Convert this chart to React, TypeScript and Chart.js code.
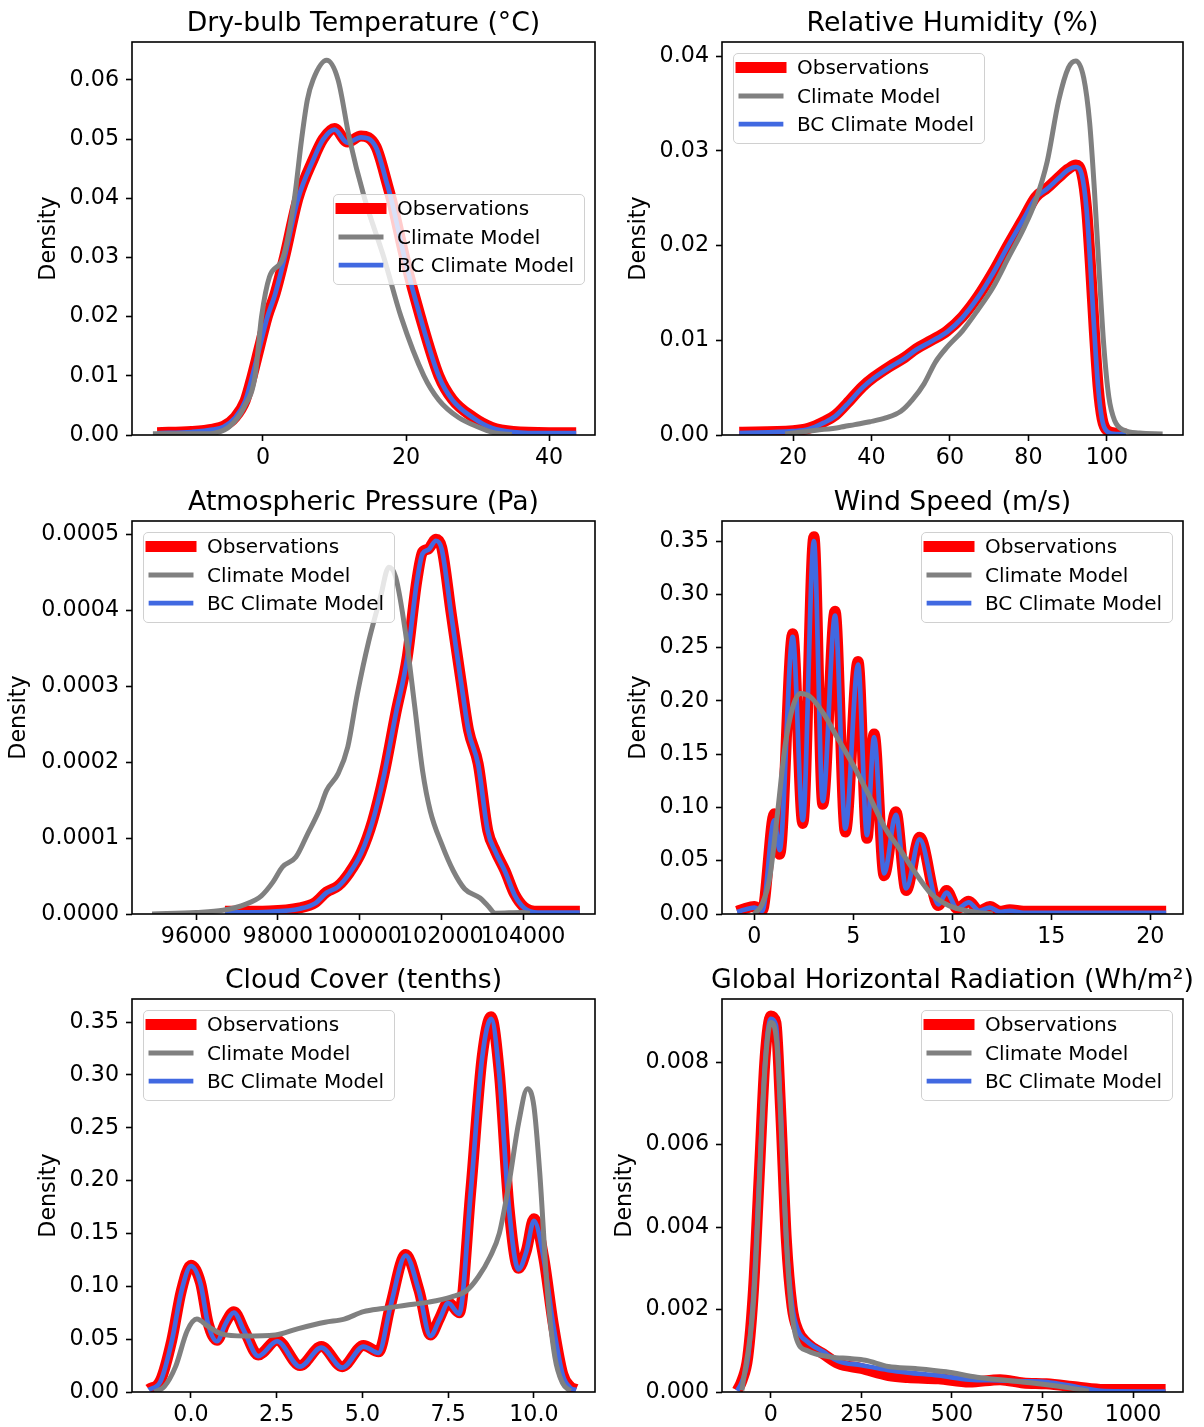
import React, { useEffect, useRef } from "react";
import { Chart, registerables } from "chart.js";

Chart.register(...registerables);

// ---------------- DATA ----------------
// Dry-bulb Temperature (°C)
const tempObsX = [-14.8, -10, -7, -5.5, -3.9, -2.5, -1.5, -0.5, 0.6, 1.7, 3.0, 4.9, 7.0, 8.4, 10.0, 11.8, 13.7, 15.8, 17.4, 18.0, 19.8, 22.0, 24.6, 26.5, 29.4, 32, 35, 40, 43.8];
const tempObsY = [0.0004, 0.0006, 0.001, 0.0015, 0.003, 0.0058, 0.01, 0.0148, 0.02, 0.0239, 0.03, 0.04, 0.0465, 0.05, 0.0518, 0.0495, 0.0505, 0.0487, 0.0423, 0.0396, 0.03, 0.02, 0.01, 0.006, 0.003, 0.0013, 0.0006, 0.0004, 0.0004];
const tempBcY = [0.0003, 0.0005, 0.0009, 0.0014, 0.0029, 0.0057, 0.0099, 0.0147, 0.0199, 0.0238, 0.0299, 0.0399, 0.0464, 0.0499, 0.0516, 0.0494, 0.0503, 0.0486, 0.0422, 0.0395, 0.0299, 0.0199, 0.0099, 0.0059, 0.0029, 0.0012, 0.0005, 0.0003, 0.0003];
const tempModelX = [-15.4, -8, -6.8, -4.7, -2.6, -1.1, -0.2, 0.9, 2.8, 4.4, 5.4, 6.2, 7.0, 8.9, 10.5, 12.1, 14.2, 16.9, 19.3, 22.5, 24.6, 27.3, 30, 32.6, 34.8];
const tempModelY = [0.0002, 0.0002, 0.0003, 0.0014, 0.0048, 0.01, 0.02, 0.0267, 0.03, 0.04, 0.05, 0.0566, 0.06, 0.0633, 0.06, 0.05, 0.04, 0.03, 0.02, 0.01, 0.0059, 0.003, 0.0014, 0.0003, 0.0001];
const tempXTicks = [0, 20, 40];
const tempYTicks = [0, 0.01, 0.02, 0.03, 0.04, 0.05, 0.06];

// Relative Humidity (%)
const rhObsX = [6.3, 20, 23.9, 27.9, 30.8, 33.7, 37.7, 40.6, 44.5, 48.5, 51.4, 55.3, 59.3, 63.2, 67.1, 71.0, 75.0, 78.9, 81.8, 84.8, 87.7, 90.2, 92.1, 93.6, 94.8, 95.8, 96.8, 97.8, 98.8, 100, 102.4, 104.9];
const rhObsY = [0.0003, 0.00045, 0.0007, 0.0014, 0.0021, 0.0033, 0.0051, 0.0061, 0.0072, 0.0082, 0.0091, 0.01, 0.011, 0.0125, 0.0146, 0.0172, 0.0202, 0.023, 0.0251, 0.0261, 0.0272, 0.0281, 0.0285, 0.0276, 0.024, 0.018, 0.011, 0.005, 0.0017, 0.0005, 0.0002, 0.0001];
const rhBcY = [0.0002, 0.0004, 0.0006, 0.0013, 0.002, 0.0032, 0.005, 0.006, 0.0071, 0.0081, 0.009, 0.0099, 0.0109, 0.0124, 0.0145, 0.0171, 0.0201, 0.0229, 0.025, 0.026, 0.0271, 0.028, 0.0283, 0.0275, 0.0239, 0.0179, 0.0109, 0.0049, 0.0016, 0.0004, 0.0001, 0.0001];
const rhModelX = [18, 25.9, 31.8, 35.7, 39.6, 43.6, 47.5, 50.4, 53.4, 56.3, 59.3, 63.2, 67.1, 71.0, 75.0, 78.9, 81.8, 84.8, 87.7, 90.2, 92.1, 94.1, 95.6, 96.8, 98, 99.2, 100.5, 102, 104.4, 108.3, 114.2];
const rhModelY = [0.0001, 0.0005, 0.0008, 0.0011, 0.0014, 0.0018, 0.0025, 0.0037, 0.0054, 0.0077, 0.0093, 0.011, 0.0132, 0.0156, 0.0188, 0.0219, 0.0247, 0.0289, 0.0353, 0.0388, 0.0395, 0.0377, 0.033, 0.026, 0.0175, 0.0095, 0.004, 0.0015, 0.0005, 0.0002, 0.0001];
const rhXTicks = [20, 40, 60, 80, 100];
const rhYTicks = [0, 0.01, 0.02, 0.03, 0.04];

// Atmospheric Pressure (Pa)
const presObsX = [96704, 97784, 98535, 98911, 99192, 99474, 99756, 100038, 100319, 100601, 100883, 101164, 101399, 101540, 101681, 101869, 102009, 102244, 102479, 102667, 102901, 103136, 103324, 103559, 103794, 104028, 104357, 105390];
const presObsY = [0.0000035, 0.000004, 0.000008, 0.000015, 0.000029, 0.000037, 0.000055, 0.000081, 0.000123, 0.000185, 0.000264, 0.000338, 0.000439, 0.000477, 0.000481, 0.000494, 0.000483, 0.000395, 0.000308, 0.000242, 0.000198, 0.00011, 0.000083, 0.000057, 0.000026, 0.000009, 0.0000035, 0.0000035];
const presBcY = [0.000002, 0.000003, 0.000007, 0.000014, 0.000028, 0.000036, 0.000054, 0.00008, 0.000122, 0.000184, 0.000263, 0.000337, 0.000437, 0.000475, 0.00048, 0.000492, 0.000481, 0.000394, 0.000307, 0.000241, 0.000197, 0.000109, 0.000082, 0.000056, 0.000025, 0.000008, 0.000002, 0.000002];
const presModelX = [94920, 96000, 96657, 97220, 97596, 97878, 98113, 98441, 98723, 99005, 99192, 99474, 99709, 99944, 100225, 100507, 100714, 100883, 101117, 101352, 101540, 101728, 102009, 102291, 102573, 102948, 103136, 103324, 103981, 104169];
const presModelY = [0, 0.000002, 0.000005, 0.000013, 0.000024, 0.000042, 0.000062, 0.000075, 0.000105, 0.000136, 0.000163, 0.000185, 0.00022, 0.00029, 0.00036, 0.000417, 0.000457, 0.000444, 0.000373, 0.000272, 0.000189, 0.000136, 0.000092, 0.000057, 0.000033, 0.000021, 0.000011, 0.000001, 0.000002, 0.000001];
const presXTicks = [96000, 98000, 100000, 102000, 104000];
const presYTicks = [0, 0.0001, 0.0002, 0.0003, 0.0004, 0.0005];

// Wind Speed (m/s)
const windObsX = [-0.87, -0.5, 0.0, 0.4, 1.01, 1.28, 1.94, 2.45, 3.01, 3.46, 4.08, 4.6, 5.24, 5.69, 6.05, 6.56, 7.15, 7.67, 8.35, 9.3, 9.71, 10.25, 10.83, 11.36, 11.9, 12.4, 12.9, 13.6, 20.8];
const windObsY = [0.0025, 0.005, 0.007, 0.003, 0.094, 0.056, 0.263, 0.085, 0.354, 0.103, 0.284, 0.077, 0.237, 0.071, 0.169, 0.036, 0.096, 0.022, 0.072, 0.008, 0.022, 0.005, 0.012, 0.003, 0.007, 0.0025, 0.004, 0.0025, 0.0025];
const windBcY = [0.002, 0.004, 0.006, 0.003, 0.088, 0.06, 0.26, 0.088, 0.35, 0.106, 0.28, 0.08, 0.234, 0.074, 0.166, 0.038, 0.093, 0.024, 0.07, 0.009, 0.02, 0.005, 0.011, 0.003, 0.006, 0.002, 0.003, 0.001, 0.001];
const windModelX = [0, 0.39, 0.78, 1.17, 1.55, 1.94, 2.33, 2.82, 3.5, 4.27, 5.05, 5.83, 6.6, 7.38, 8.16, 8.93, 9.71, 10.49, 11.26, 12.04];
const windModelY = [0, 0.009, 0.034, 0.094, 0.157, 0.194, 0.207, 0.204, 0.188, 0.163, 0.138, 0.11, 0.081, 0.06, 0.038, 0.019, 0.009, 0.004, 0.0015, 0];
const windXTicks = [0, 5, 10, 15, 20];
const windYTicks = [0, 0.05, 0.1, 0.15, 0.2, 0.25, 0.3, 0.35];

// Cloud Cover (tenths)
const cloudObsX = [-1.23, -0.89, -0.56, -0.28, 0.0, 0.28, 0.5, 0.76, 1.0, 1.25, 1.56, 1.96, 2.51, 3.18, 3.8, 4.41, 5.03, 5.47, 5.81, 6.26, 6.65, 6.98, 7.25, 7.5, 7.82, 8.16, 8.49, 8.75, 8.99, 9.27, 9.55, 9.78, 10.0, 10.28, 10.56, 10.84, 11.06, 11.23];
const cloudObsY = [0.0025, 0.011, 0.049, 0.096, 0.12, 0.103, 0.065, 0.049, 0.065, 0.076, 0.058, 0.035, 0.049, 0.025, 0.043, 0.024, 0.044, 0.038, 0.081, 0.13, 0.096, 0.054, 0.07, 0.085, 0.075, 0.191, 0.317, 0.355, 0.302, 0.175, 0.117, 0.134, 0.164, 0.128, 0.065, 0.017, 0.005, 0.0025];
const cloudBcY = [0.002, 0.01, 0.048, 0.095, 0.119, 0.102, 0.064, 0.048, 0.064, 0.075, 0.057, 0.034, 0.048, 0.024, 0.042, 0.023, 0.043, 0.037, 0.08, 0.129, 0.095, 0.053, 0.069, 0.084, 0.074, 0.19, 0.316, 0.353, 0.3, 0.174, 0.116, 0.133, 0.162, 0.127, 0.064, 0.016, 0.004, 0.002];
const cloudModelX = [-1.06, -0.78, -0.45, -0.11, 0.17, 0.5, 0.89, 1.56, 2.46, 3.13, 3.91, 4.47, 5.03, 5.59, 6.26, 6.93, 7.6, 8.04, 8.38, 8.72, 8.99, 9.27, 9.55, 9.81, 10.0, 10.17, 10.39, 10.61, 10.84, 11.06];
const cloudModelY = [0, 0.005, 0.024, 0.058, 0.069, 0.062, 0.055, 0.053, 0.054, 0.06, 0.066, 0.069, 0.076, 0.079, 0.082, 0.085, 0.09, 0.096, 0.109, 0.128, 0.15, 0.197, 0.254, 0.287, 0.27, 0.207, 0.096, 0.033, 0.008, 0.001];
const cloudXTicks = [0, 2.5, 5, 7.5, 10];
const cloudYTicks = [0, 0.05, 0.1, 0.15, 0.2, 0.25, 0.3, 0.35];

// Global Horizontal Radiation (Wh/m²)
const ghiObsX = [-92.6, -79.8, -63.8, -47.9, -31.9, -16, 0, 13.8, 26.6, 42.6, 58.5, 74.5, 101, 143.6, 186, 250, 324.5, 377.7, 462.8, 547.9, 633, 696.8, 760.6, 845.7, 920, 1090];
const ghiObsY = [0.00004, 0.00028, 0.00085, 0.0025, 0.0053, 0.0081, 0.00912, 0.00896, 0.0069, 0.0037, 0.00207, 0.0015, 0.00118, 0.00093, 0.00069, 0.00057, 0.0004, 0.00035, 0.00032, 0.00024, 0.0003, 0.00022, 0.0002, 0.00012, 0.00006, 0.00006];
const ghiBcY = [0.00003, 0.00025, 0.0008, 0.0024, 0.0052, 0.008, 0.00905, 0.0089, 0.0069, 0.0037, 0.0021, 0.0015, 0.00122, 0.00098, 0.00075, 0.00065, 0.00053, 0.00047, 0.0004, 0.0003, 0.00028, 0.00026, 0.00024, 0.00012, 0.00002, 0.00001];
const ghiModelX = [-80, -48, -16, 0, 16, 32, 48, 69, 101, 165, 218, 261, 324.5, 399, 484, 569, 654, 739, 824, 878];
const ghiModelY = [0.00004, 0.0022, 0.0079, 0.00896, 0.0085, 0.0057, 0.0029, 0.00134, 0.001, 0.00085, 0.00081, 0.00077, 0.00062, 0.00057, 0.00049, 0.00036, 0.00028, 0.0002, 0.0001, 0.00002];
const ghiXTicks = [0, 250, 500, 750, 1000];
const ghiYTicks = [0, 0.002, 0.004, 0.006, 0.008];

const seriesLabels = ["Observations", "Climate Model", "BC Climate Model"];
const yAxisLabel = "Density";

// ---------------- LAYOUT / STYLE ----------------
const FONT = '"DejaVu Sans", sans-serif';
const TICK_SIZE = 22.2;
const LEGEND_SIZE = 20;
const TITLE_SIZE = 26.7;
const COLS = [
  { x: 0, w: 602, chartLeft: 132, chartRight: 595 },
  { x: 602, w: 602, chartLeft: 722, chartRight: 1183 },
];
const ROWS = [
  { y: 0, h: 478, chartTop: 42, chartBottom: 435 },
  { y: 478, h: 479, chartTop: 521, chartBottom: 914 },
  { y: 957, h: 470, chartTop: 999, chartBottom: 1392 },
];

type LegendPos = "ul" | "ur" | { dx: number; dy: number };
interface PanelSpec {
  title: string;
  col: number;
  row: number;
  obsX: number[]; obsY: number[];
  modelX: number[]; modelY: number[];
  bcX: number[]; bcY: number[];
  xMin: number; xMax: number; yMax: number;
  xTicks: number[]; yTicks: number[];
  xDec: number; yDec: number;
  legend: LegendPos;
  ylabelPad: number;
}

const panels: PanelSpec[] = [
  { title: "Dry-bulb Temperature (°C)", col: 0, row: 0, obsX: tempObsX, obsY: tempObsY, modelX: tempModelX, modelY: tempModelY, bcX: tempObsX, bcY: tempBcY, xMin: -18.32, xMax: 46.43, yMax: 0.0664, xTicks: tempXTicks, yTicks: tempYTicks, xDec: 0, yDec: 2, legend: { dx: 201, dy: 152 }, ylabelPad: 36.4 },
  { title: "Relative Humidity (%)", col: 1, row: 0, obsX: rhObsX, obsY: rhObsY, modelX: rhModelX, modelY: rhModelY, bcX: rhObsX, bcY: rhBcY, xMin: 1.9, xMax: 119.4, yMax: 0.0415, xTicks: rhXTicks, yTicks: rhYTicks, xDec: 0, yDec: 2, legend: "ul", ylabelPad: 24 },
  { title: "Atmospheric Pressure (Pa)", col: 0, row: 1, obsX: presObsX, obsY: presObsY, modelX: presModelX, modelY: presModelY, bcX: presObsX, bcY: presBcY, xMin: 94430, xMax: 105760, yMax: 0.000518, xTicks: presXTicks, yTicks: presYTicks, xDec: 0, yDec: 4, legend: "ul", ylabelPad: 5.8 },
  { title: "Wind Speed (m/s)", col: 1, row: 1, obsX: windObsX, obsY: windObsY, modelX: windModelX, modelY: windModelY, bcX: windObsX, bcY: windBcY, xMin: -1.63, xMax: 21.65, yMax: 0.3688, xTicks: windXTicks, yTicks: windYTicks, xDec: 0, yDec: 2, legend: "ur", ylabelPad: 24 },
  { title: "Cloud Cover (tenths)", col: 0, row: 2, obsX: cloudObsX, obsY: cloudObsY, modelX: cloudModelX, modelY: cloudModelY, bcX: cloudObsX, bcY: cloudBcY, xMin: -1.72, xMax: 11.78, yMax: 0.3718, xTicks: cloudXTicks, yTicks: cloudYTicks, xDec: 1, yDec: 2, legend: "ul", ylabelPad: 36.4 },
  { title: "Global Horizontal Radiation (Wh/m²)", col: 1, row: 2, obsX: ghiObsX, obsY: ghiObsY, modelX: ghiModelX, modelY: ghiModelY, bcX: ghiObsX, bcY: ghiBcY, xMin: -135, xMax: 1138, yMax: 0.00953, xTicks: ghiXTicks, yTicks: ghiYTicks, xDec: 0, yDec: 3, legend: "ur", ylabelPad: 9.5 },
];

const zip = (xs: number[], ys: number[]) => xs.map((x, i) => ({ x, y: ys[i] }));

// ---------------- PLUGINS ----------------
const framePlugin = {
  id: "kdeFrame",
  afterDatasetsDraw(chart: any) {
    const { ctx, chartArea: ca } = chart;
    ctx.save();
    ctx.strokeStyle = "#000";
    ctx.lineWidth = 1.6;
    ctx.strokeRect(ca.left, ca.top, ca.right - ca.left, ca.bottom - ca.top);
    ctx.restore();
  },
};

const legendBoxPlugin = {
  id: "kdeLegend",
  afterDatasetsDraw(chart: any, _args: any, opts: any) {
    const { ctx, chartArea: ca } = chart;
    const W = 251, H = 90;
    const pos: LegendPos = opts.pos;
    let x0: number, y0: number;
    if (pos === "ur") { x0 = ca.right - 11 - W; y0 = ca.top + 11; }
    else if (pos === "ul") { x0 = ca.left + 11; y0 = ca.top + 11; }
    else { x0 = ca.left + pos.dx; y0 = ca.top + pos.dy; }
    ctx.save();
    ctx.beginPath();
    ctx.roundRect(x0 + 0.5, y0 + 0.5, W, H, 4.5);
    ctx.fillStyle = "rgba(255,255,255,0.8)";
    ctx.fill();
    ctx.strokeStyle = "#d0d0d0";
    ctx.lineWidth = 1;
    ctx.stroke();
    chart.data.datasets.forEach((ds: any, i: number) => {
      const cy = y0 + 14.6 + 28.3 * i;
      ctx.beginPath();
      ctx.strokeStyle = ds.borderColor;
      ctx.lineWidth = ds.borderWidth;
      ctx.lineCap = "square";
      ctx.moveTo(x0 + 8, cy);
      ctx.lineTo(x0 + 48, cy);
      ctx.stroke();
      ctx.fillStyle = "#000";
      ctx.font = `${LEGEND_SIZE}px ${FONT}`;
      ctx.textAlign = "left";
      ctx.textBaseline = "alphabetic";
      ctx.fillText(ds.label, x0 + 64, y0 + 21.2 + 28.3 * i);
    });
    ctx.restore();
  },
};

const titlePlugin = {
  id: "kdeTitle",
  afterDraw(chart: any, _args: any, opts: any) {
    const { ctx, chartArea: ca } = chart;
    ctx.save();
    ctx.font = `${TITLE_SIZE}px ${FONT}`;
    ctx.fillStyle = "#000";
    ctx.textAlign = "center";
    ctx.textBaseline = "alphabetic";
    ctx.fillText(opts.text, (ca.left + ca.right) / 2, ca.top - 11);
    ctx.restore();
  },
};

// ---------------- COMPONENTS ----------------
function KdePanel({ spec }: { spec: PanelSpec }) {
  const ref = useRef<HTMLCanvasElement>(null);
  const col = COLS[spec.col];
  const row = ROWS[spec.row];

  useEffect(() => {
    if (!ref.current) return;
    const lineCommon = {
      pointRadius: 0,
      fill: false,
      cubicInterpolationMode: "monotone" as const,
      borderJoinStyle: "round" as const,
      borderCapStyle: "butt" as const,
      clip: 0,
    };
    const yAxisW = col.chartLeft - col.x;
    const xAxisH = row.h - (row.chartBottom - row.y);
    const chart = new Chart(ref.current, {
      type: "line",
      data: {
        datasets: [
          { ...lineCommon, label: seriesLabels[0], data: zip(spec.obsX, spec.obsY), borderColor: "#ff0000", borderWidth: 11, order: 3 },
          { ...lineCommon, label: seriesLabels[1], data: zip(spec.modelX, spec.modelY), borderColor: "#808080", borderWidth: 5, order: 1 },
          { ...lineCommon, label: seriesLabels[2], data: zip(spec.bcX, spec.bcY), borderColor: "#4169e1", borderWidth: 4.7, order: 2 },
        ],
      },
      options: {
        responsive: false,
        animation: false,
        devicePixelRatio: 1,
        events: [],
        layout: {
          padding: {
            left: 0,
            right: col.x + col.w - col.chartRight,
            top: row.chartTop - row.y,
            bottom: 0,
          },
        },
        plugins: {
          legend: { display: false },
          tooltip: { enabled: false },
          title: { display: false },
          kdeLegend: { pos: spec.legend },
          kdeTitle: { text: spec.title },
        } as any,
        scales: {
          x: {
            type: "linear",
            min: spec.xMin,
            max: spec.xMax,
            border: { display: false },
            grid: { display: true, drawOnChartArea: false, drawTicks: true, tickLength: 6, tickWidth: 1.6, tickColor: "#000" },
            ticks: {
              autoSkip: false,
              maxRotation: 0,
              minRotation: 0,
              padding: 4.4,
              color: "#000",
              font: { family: FONT, size: TICK_SIZE, lineHeight: 1.2 },
              callback: (v: any) => Number(v).toFixed(spec.xDec),
            },
            afterBuildTicks: (scale: any) => {
              scale.ticks = spec.xTicks.map((value) => ({ value }));
            },
            afterFit: (scale: any) => {
              scale.height = xAxisH;
            },
          },
          y: {
            type: "linear",
            min: 0,
            max: spec.yMax,
            border: { display: false },
            grid: { display: true, drawOnChartArea: false, drawTicks: true, tickLength: 6, tickWidth: 1.6, tickColor: "#000" },
            ticks: {
              autoSkip: false,
              padding: 7,
              color: "#000",
              font: { family: FONT, size: TICK_SIZE, lineHeight: 1.2 },
              callback: (v: any) => Number(v).toFixed(spec.yDec),
            },
            title: {
              display: true,
              text: yAxisLabel,
              color: "#000",
              font: { family: FONT, size: TICK_SIZE, lineHeight: 1.2 },
              padding: { top: spec.ylabelPad, bottom: 0 },
            },
            afterBuildTicks: (scale: any) => {
              scale.ticks = spec.yTicks.map((value) => ({ value }));
            },
            afterFit: (scale: any) => {
              scale.width = yAxisW;
            },
          },
        },
      },
      plugins: [framePlugin, legendBoxPlugin, titlePlugin],
    });
    return () => chart.destroy();
  }, [spec]);

  return (
    <canvas
      ref={ref}
      width={col.w}
      height={row.h}
      style={{ position: "absolute", left: col.x, top: row.y, width: col.w, height: row.h }}
    />
  );
}

export default function App() {
  return (
    <div
      style={{
        position: "absolute",
        left: 0,
        top: 0,
        width: 1204,
        height: 1427,
        background: "#ffffff",
        overflow: "hidden",
      }}
    >
      {panels.map((p) => (
        <KdePanel key={p.title} spec={p} />
      ))}
    </div>
  );
}
